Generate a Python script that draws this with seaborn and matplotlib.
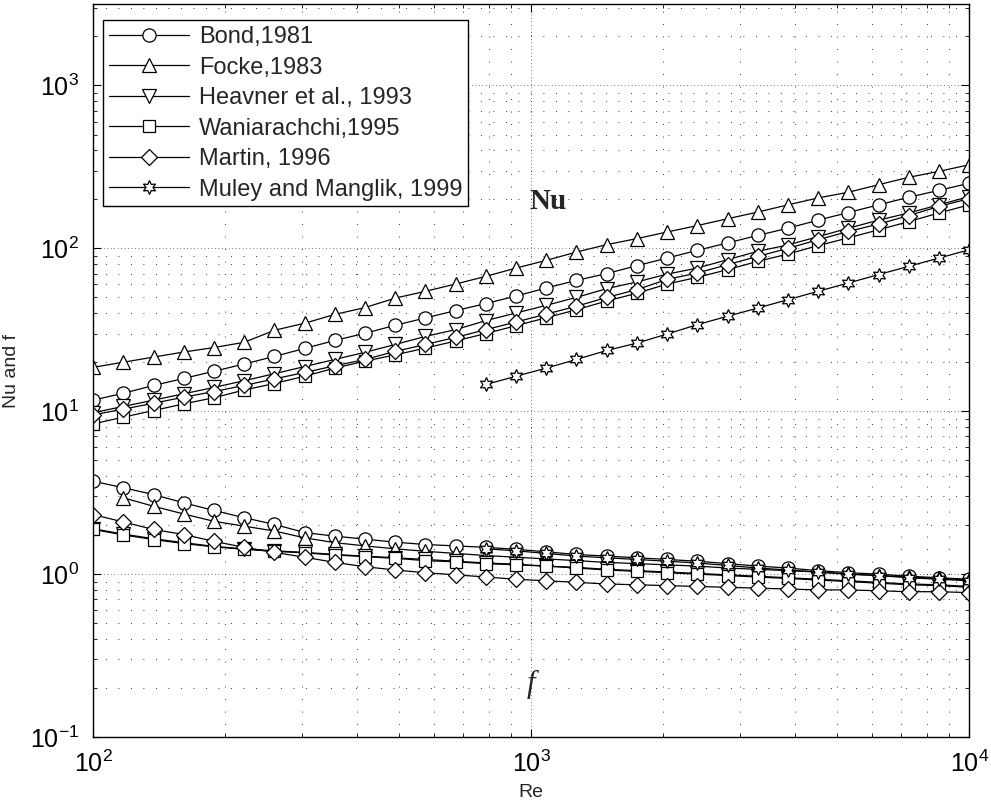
import numpy as np
import matplotlib
matplotlib.use("Agg")
import matplotlib.pyplot as plt
import seaborn as sns

# Reynolds numbers (30 log-spaced points, 100 .. 10^4)
re_vals = [100.0, 117.2, 137.4, 161.0, 188.7, 221.2, 259.3, 303.9, 356.2, 417.5,
           489.4, 573.6, 672.3, 788.0, 923.7, 1082.6, 1269.0, 1487.4, 1743.3, 2043.4,
           2395.0, 2807.2, 3290.3, 3856.6, 4520.4, 5298.3, 6210.2, 7279.0, 8531.7, 10000.0]

# Nusselt number
nu_bond = [11.7, 12.9, 14.4, 15.9, 17.6, 19.5, 21.7, 24.3, 27.2, 30.1,
           33.7, 37.4, 41.5, 45.8, 51.0, 57.1, 63.6, 70.0, 78.3, 87.2,
           97.2, 108, 120, 133, 149, 166, 185, 206, 227, 251]
nu_focke = [18.6, 20.0, 21.5, 23.1, 24.6, 26.5, 31.4, 34.7, 39.3, 43.3,
            49.5, 54.5, 60.4, 67.3, 75.7, 84.4, 94.9, 105.4, 114.8, 126,
            138, 152, 167, 185, 204, 221, 246, 273, 297, 326]
nu_heavner = [9.8, 10.7, 11.7, 12.8, 14.0, 15.4, 17.0, 18.8, 20.8, 23.0,
              25.7, 28.8, 31.7, 36.0, 40.1, 44.7, 50.0, 56.6, 62.2, 69.5,
              75.7, 85.2, 95.9, 105, 118, 133, 149, 165, 185, 208]
nu_wani = [8.36, 9.2, 10.1, 11.1, 12.1, 13.5, 14.8, 16.4, 18.4, 20.3,
           22.2, 24.4, 27.0, 30.0, 33.5, 37.5, 42.0, 47.5, 53.0, 60.4,
           66.4, 74.0, 83.2, 92.3, 104, 116, 130, 146, 165, 185]
nu_martin = [9.5, 10.3, 11.2, 12.2, 13.2, 14.4, 15.8, 17.3, 19.0, 20.8,
             23.3, 25.7, 28.4, 31.7, 35.3, 39.5, 44.1, 50.0, 55.8, 64.5,
             70.6, 79.4, 89.3, 100, 113, 127, 141, 159, 181, 202]
nu_muley = [None] * 13 + [14.6, 16.4, 18.4, 20.8, 23.6, 26.2, 29.8,
                          34.0, 38.3, 43.0, 48.4, 54.5, 61.3, 69.0, 77.6, 87.2, 98.0]

# friction factor
f_bond = [3.72, 3.39, 3.08, 2.74, 2.46, 2.22, 2.02, 1.80, 1.71, 1.64,
          1.57, 1.52, 1.49, 1.46, 1.42, 1.37, 1.32, 1.29, 1.26, 1.23,
          1.20, 1.16, 1.12, 1.09, 1.05, 1.02, 1.00, 0.97, 0.95, 0.93]
f_focke = [None, 2.94, 2.61, 2.34, 2.11, 1.97, 1.84, 1.67, 1.56, 1.49,
           1.43, 1.38, 1.34, 1.30, 1.27, 1.24, 1.21, 1.18, 1.16, 1.14,
           1.12, 1.09, 1.07, 1.05, 1.03, 1.00, 0.98, 0.96, 0.94, 0.92]
f_heavner = [1.90, 1.76, 1.65, 1.56, 1.48, 1.43, 1.39, 1.36, 1.32, 1.29,
             1.26, 1.23, 1.20, 1.17, 1.15, 1.12, 1.10, 1.07, 1.05, 1.03,
             1.01, 0.99, 0.97, 0.95, 0.93, 0.91, 0.89, 0.87, 0.86, 0.84]
f_wani = [1.88, 1.74, 1.63, 1.54, 1.47, 1.42, 1.38, 1.35, 1.31, 1.28,
          1.25, 1.21, 1.19, 1.16, 1.14, 1.12, 1.09, 1.06, 1.04, 1.02,
          1.00, 0.98, 0.96, 0.94, 0.92, 0.90, 0.88, 0.86, 0.85, 0.83]
f_martin = [2.32, 2.09, 1.88, 1.75, 1.59, 1.46, 1.36, 1.27, 1.18, 1.11,
            1.06, 1.02, 0.99, 0.96, 0.93, 0.91, 0.89, 0.87, 0.86, 0.85,
            0.84, 0.83, 0.82, 0.81, 0.80, 0.80, 0.79, 0.78, 0.78, 0.77]
f_muley = [None] * 13 + [1.43, 1.39, 1.34, 1.29, 1.26, 1.23, 1.20,
                         1.17, 1.13, 1.09, 1.06, 1.03, 1.00, 0.98, 0.95, 0.93, 0.91]

labels = ["Bond,1981", "Focke,1983", "Heavner et al., 1993",
          "Waniarachchi,1995", "Martin, 1996", "Muley and Manglik, 1999"]
markers = ["o", "^", "v", "s", "D", (6, 1, 0)]
msizes = [9.5, 10, 10, 8, 8, 10]
nu_all = [nu_bond, nu_focke, nu_heavner, nu_wani, nu_martin, nu_muley]
f_all = [f_bond, f_focke, f_heavner, f_wani, f_martin, f_muley]


def to_arr(vals):
    return np.array([np.nan if v is None else v for v in vals], dtype=float)


sns.set_style("ticks", {"xtick.direction": "in", "ytick.direction": "in"})
plt.rcParams["font.family"] = ["Liberation Sans", "DejaVu Sans"]

fig, ax = plt.subplots(figsize=(9.91, 8.09), dpi=100)
fig.subplots_adjust(left=0.094, right=0.978, bottom=0.089, top=0.995)
ax.set_xscale("log")
ax.set_yscale("log")

re = np.array(re_vals)
for lab, mk, ms, nu, f in zip(labels, markers, msizes, nu_all, f_all):
    style = dict(color="k", lw=0.9, marker=mk, ms=ms, mfc="white",
                 mec="k", mew=0.9, ax=ax)
    sns.lineplot(x=re, y=to_arr(nu), label=lab, **style)
    sns.lineplot(x=re, y=to_arr(f), **style)

for line in ax.lines:
    line.set_markerfacecolor("white")
    line.set_markeredgecolor("black")

ax.set_xlim(100, 10000)
ax.set_ylim(0.1, 3162)

ax.set_axisbelow(True)
ax.grid(True, which="major", color="k", linestyle=(0, (1, 4)), linewidth=0.5)
ax.grid(True, which="minor", color="k", linestyle=(0, (1, 14)), linewidth=0.6)
ax.tick_params(which="both", direction="in", top=True, right=True,
               colors="k", labelsize=18, pad=10)
ax.tick_params(which="major", length=6, width=0.8)
ax.tick_params(which="minor", length=3, width=0.6)
for sp in ax.spines.values():
    sp.set_color("k")
    sp.set_linewidth(1.0)

ax.set_xlabel("Re", fontsize=14, labelpad=5)
ax.set_ylabel("Nu and f", fontsize=14)
ax.yaxis.set_label_coords(-0.083, 0.5)

ax.text(1094, 194, "Nu", family="Liberation Serif", fontweight="bold",
        fontsize=21, ha="center", va="center")
ax.text(1000, 0.211, "f", family="Liberation Serif", style="italic",
        fontsize=22, ha="center", va="center")

leg = ax.legend(loc="upper left", bbox_to_anchor=(0.0114, 0.978),
                borderaxespad=0, fontsize=17, handlelength=3.4,
                handletextpad=0.4, labelspacing=0.36, borderpad=0.25,
                fancybox=False, framealpha=1, edgecolor="k")
leg.get_frame().set_linewidth(1.0)

fig.savefig("out.png", dpi=100)
